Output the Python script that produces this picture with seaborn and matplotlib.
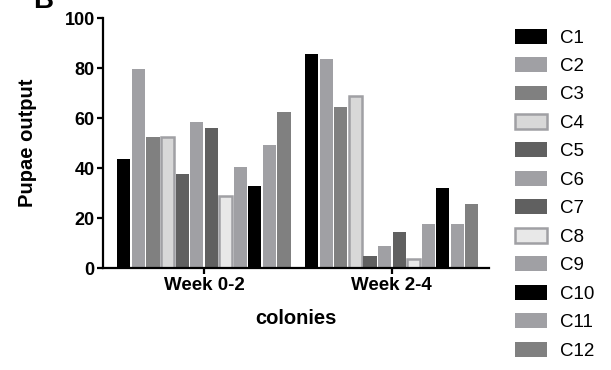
import pandas as pd
import matplotlib
matplotlib.use("Agg")
import matplotlib.pyplot as plt
import seaborn as sns
from matplotlib.patches import Patch

# values
colonies = ["C1", "C2", "C3", "C4", "C5", "C6", "C7", "C8", "C9", "C10", "C11", "C12"]
weeks = ["Week 0-2", "Week 2-4"]
week_0_2 = [43.8, 79.6, 52.4, 52.6, 37.6, 58.6, 56.0, 28.7, 40.3, 32.7, 49.2, 62.6]
week_2_4 = [85.6, 83.6, 64.6, 69.0, 4.7, 8.8, 14.5, 3.6, 17.7, 32.0, 17.6, 25.8]

fills = ["#000000", "#a0a0a4", "#808080", "#d8d8d8", "#606060", "#a0a0a4",
         "#606060", "#e8e8e8", "#a0a0a4", "#000000", "#a0a0a4", "#808080"]
outlined = {"C4", "C8"}

df = pd.DataFrame({
    "colony": colonies * 2,
    "week": [weeks[0]] * 12 + [weeks[1]] * 12,
    "output": week_0_2 + week_2_4,
})

sns.set_style("white")
plt.rcParams["font.family"] = ["Liberation Sans", "DejaVu Sans"]
plt.rcParams["text.color"] = "black"
plt.rcParams["axes.labelcolor"] = "black"
plt.rcParams["xtick.color"] = "black"
plt.rcParams["ytick.color"] = "black"

fig = plt.figure(figsize=(6.11, 3.70), dpi=100)
ax = fig.add_axes([0.1686, 0.275, 0.800 - 0.1686, 0.951 - 0.275])

sns.barplot(data=df, x="week", y="output", hue="colony", hue_order=colonies,
            palette=fills, width=0.93, gap=0.1, saturation=1, legend=False, ax=ax)

for name, cont in zip(colonies, ax.containers):
    for bar in cont:
        if name in outlined:
            bar.set_edgecolor("#a0a0a4")
            bar.set_linewidth(1.8)
        else:
            bar.set_linewidth(0)

ax.set_xlim(-0.537, 1.516)
ax.set_ylim(0, 100)
ax.set_yticks([0, 20, 40, 60, 80, 100])
sns.despine(ax=ax)
for s in ["left", "bottom"]:
    ax.spines[s].set_linewidth(1.6)
    ax.spines[s].set_color("black")
ax.tick_params(axis="both", direction="out", length=4, width=1.6, color="black",
               bottom=True, left=True, pad=2)
for lab in ax.get_yticklabels():
    lab.set_fontsize(13)
    lab.set_fontweight("bold")
for lab in ax.get_xticklabels():
    lab.set_fontsize(13.5)
    lab.set_fontweight("bold")
ax.set_ylabel("Pupae output", fontsize=14.5, fontweight="bold", labelpad=20)
ax.set_xlabel("colonies", fontsize=14.5, fontweight="bold", labelpad=11)

handles = []
for name, c in zip(colonies, fills):
    if name in outlined:
        handles.append(Patch(facecolor=c, edgecolor="#a0a0a4", linewidth=1.8, label=name))
    else:
        handles.append(Patch(facecolor=c, edgecolor="none", label=name))
fig.legend(handles=handles, loc="upper left", bbox_to_anchor=(0.831, 0.943),
           frameon=False, fontsize=13.5, handlelength=1.7, handleheight=0.85,
           labelspacing=0.56, handletextpad=0.7, borderaxespad=0)

# panel letter, clipped at the top of the figure
fig.text(33 / 611, 1 - 8 / 370, "B", fontsize=20, fontweight="bold", va="baseline")

fig.savefig("out.png", dpi=100)
